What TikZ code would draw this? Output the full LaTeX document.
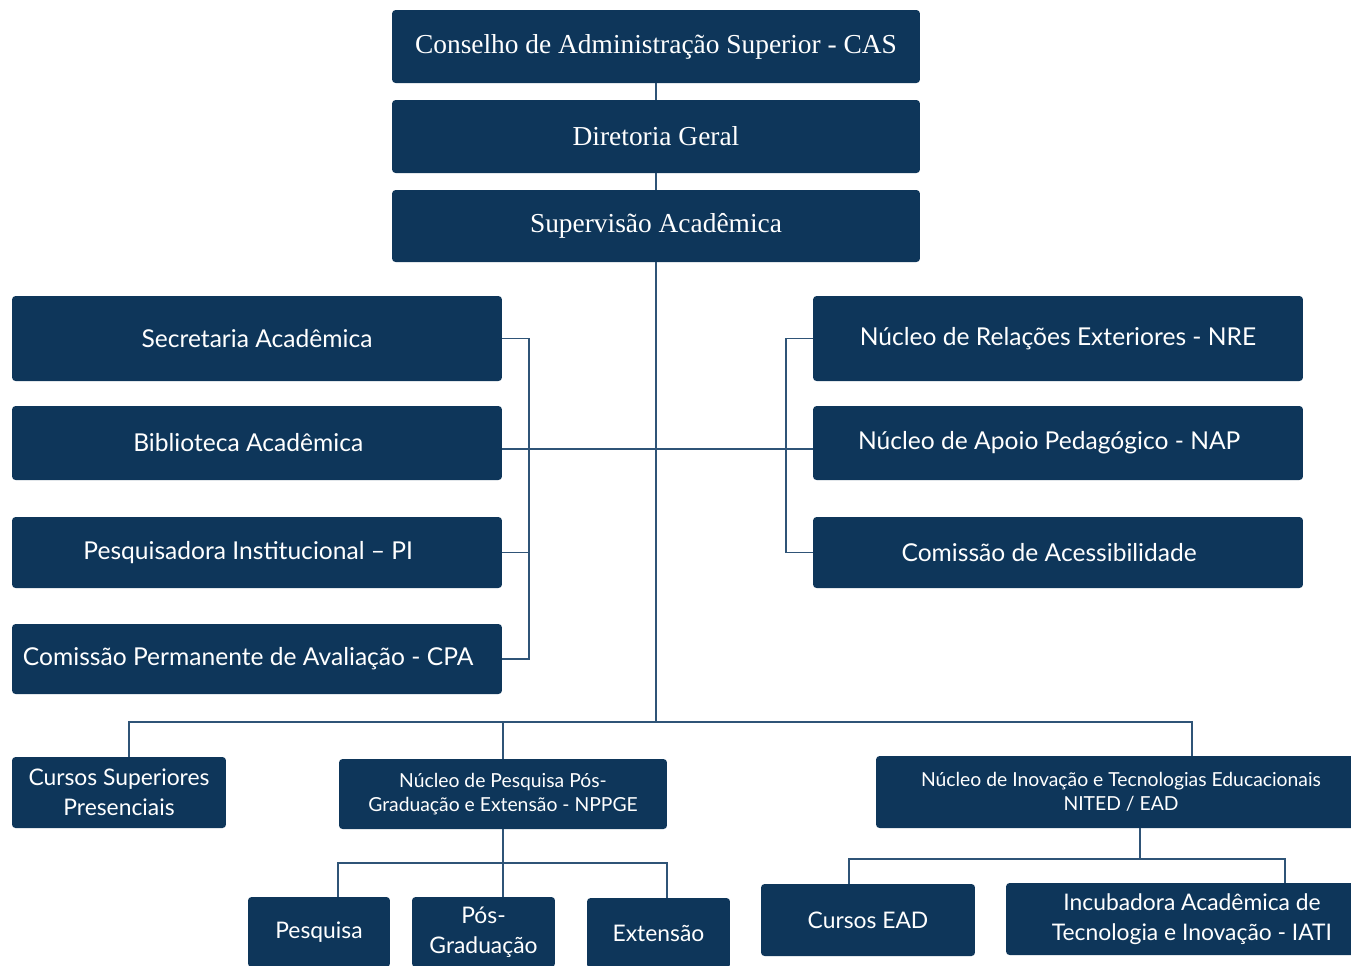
\documentclass[tikz,border=0pt]{standalone}
\usepackage{fontspec}
\setmainfont{Lato}
\newfontfamily\serifo{Liberation Serif}
\usetikzlibrary{calc}
\definecolor{navy}{HTML}{0E365A}
\definecolor{linkc}{HTML}{2F5477}
\tikzset{
  box/.style={fill=navy,text=white,rounded corners=2pt,align=center,inner sep=0pt,
    font=\fontsize{14}{17}\selectfont},
  topbox/.style={box,minimum width=10.56cm,minimum height=1.46cm,
    font=\serifo\fontsize{15.6}{18}\selectfont},
  sidebox/.style={box,minimum width=9.8cm},
  smallbox/.style={box,font=\fontsize{11}{13.5}\selectfont},
  leafbox/.style={box,font=\fontsize{13}{17}\selectfont},
  link/.style={draw=linkc,line width=1pt}
}
\begin{document}
\begin{tikzpicture}[x=0.02cm,y=-0.02cm]
\useasboundingbox (0,0) rectangle (1351,965);
\clip (0,0) rectangle (1351,965);
% top of the chart
\node[topbox] (cas) at (656,46.5) {Conselho de Administração Superior - CAS};
\node[topbox] (dir) at (656,136.5) {Diretoria Geral};
\node[topbox,minimum height=1.44cm] (sup) at (656,226) {Supervisão Acadêmica};
% left column
\node[sidebox,minimum height=1.7cm] (sec) at (257,338.5) {Secretaria Acadêmica};
\node[sidebox,minimum height=1.48cm] (bib) at (257,443) {\hspace*{-10pt}Biblioteca Acadêmica};
\node[sidebox,minimum height=1.42cm] (pi) at (257,552.5) {\hspace*{-10pt}Pesquisadora Institucional – PI};
\node[sidebox,minimum height=1.4cm] (cpa) at (257,659) {\hspace*{-10pt}Comissão Permanente de Avaliação - CPA};
% right column
\node[sidebox,minimum height=1.7cm] (nre) at (1058,338.5) {Núcleo de Relações Exteriores - NRE};
\node[sidebox,minimum height=1.48cm] (nap) at (1058,443) {\hspace*{-10pt}Núcleo de Apoio Pedagógico - NAP};
\node[sidebox,minimum height=1.42cm] (acs) at (1058,552.5) {\hspace*{-10pt}Comissão de Acessibilidade};
% third level
\node[leafbox,minimum width=4.28cm,minimum height=1.42cm] (csp) at (119,792.5) {Cursos Superiores\\Presenciais};
\node[smallbox,minimum width=6.56cm,minimum height=1.4cm] (nppge) at (503,794) {Núcleo de Pesquisa Pós-\\Graduação e Extensão - NPPGE};
\node[smallbox,minimum width=9.8cm,minimum height=1.44cm] (nited) at (1121,792) {Núcleo de Inovação e Tecnologias Educacionais\\NITED / EAD};
% fourth level
\node[leafbox,minimum width=2.84cm,minimum height=1.4cm] (pesq) at (319,932) {Pesquisa};
\node[leafbox,minimum width=2.86cm,minimum height=1.4cm] (pos) at (483.5,932) {Pós-\\Graduação};
\node[leafbox,minimum width=2.86cm,minimum height=1.4cm] (ext) at (658.5,933) {Extensão};
\node[leafbox,minimum width=4.28cm,minimum height=1.44cm] (cead) at (868,920) {Cursos EAD};
\node[leafbox,minimum width=7.44cm,minimum height=1.44cm] (iati) at (1192,919) {Incubadora Acadêmica de\\Tecnologia e Inovação - IATI};
% connectors
\coordinate (busL) at (129,722);
\coordinate (busR) at (1192,722);
\coordinate (lbar) at (529,0);
\coordinate (rbar) at (786,0);
\draw[link] (cas.south) -- (dir.north);
\draw[link] (dir.south) -- (sup.north);
\draw[link] (sup.south) -- (sup.south |- busL);
\draw[link] ($(bib.east)+(0,6)$) -- ($(nap.west)+(0,6)$);
\draw[link] (sec.east) -| (lbar |- cpa.east) -- (cpa.east);
\draw[link] (pi.east) -- (lbar |- pi.east);
\draw[link] (nre.west) -| (rbar |- acs.west) -- (acs.west);
\draw[link] ($(csp.north)+(10,0)$) |- (busR) -- ($(nited.north)+(71,0)$);
\draw[link] (nppge.north) -- (nppge.north |- busL);
\draw[link] (nppge.south) -- (nppge.south |- pos.north);
\draw[link] ($(pesq.north)+(19,0)$) |- ($(ext.north)+(8.5,-35)$) -- ($(ext.north)+(8.5,0)$);
\draw[link] ($(nited.south)+(19,0)$) -- ($(nited.south)+(19,31)$);
\draw[link] ($(cead.north)+(-19,0)$) |- ($(iati.north)+(93,-24)$) -- ($(iati.north)+(93,0)$);
\end{tikzpicture}
\end{document}
